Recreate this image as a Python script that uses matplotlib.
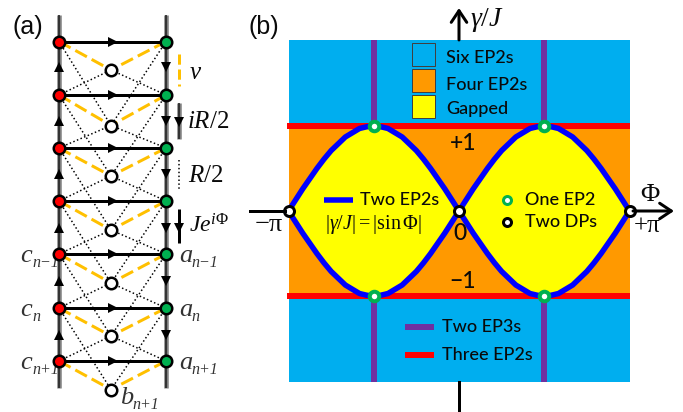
"""Lattice sketch (a) and gamma/Phi phase diagram (b)."""
import numpy as np
import matplotlib
matplotlib.use("Agg")
import matplotlib.pyplot as plt
from matplotlib.patches import Rectangle

W, H = 683, 412
PX = 0.72  # points per pixel at dpi 100

plt.rcParams["font.family"] = "Lato"
plt.rcParams["font.weight"] = "medium"
plt.rcParams["mathtext.fontset"] = "custom"
plt.rcParams["mathtext.rm"] = "Liberation Serif"
plt.rcParams["mathtext.it"] = "Liberation Serif:italic"

SKY = "#00AEEF"
ORANGE = "#FF9900"
YELLOW = "#FFFF00"
RED = "#FF0000"
BLUE = "#0000FF"
PURPLE = "#7030A0"
GREEN = "#00B050"
DASH = "#FFC000"
RAIL = "#7F7F7F"
INK = "#0A0A0A"

# panel (a), read in picture pixels
left_x = 59
right_x = 166
mid_x = 111
row_y = [41.5, 95, 148, 201, 254, 308, 361]
mid_y = [70, 125.5, 176, 230, 283, 336, 389.5]
arrow_y = [67, 121, 174, 228, 281, 335]
left_subs = {4: "n\u22121", 5: "n", 6: "n+1"}
right_subs = {4: "n\u22121", 5: "n", 6: "n+1"}

# panel (b), one arch of the boundary
arch_phi = [i / 24 for i in range(25)]
arch_gamma = [0.00, 0.13, 0.26, 0.38, 0.50, 0.61, 0.71, 0.79, 0.87, 0.92, 0.97, 0.99, 1.00,
              0.99, 0.97, 0.92, 0.87, 0.79, 0.71, 0.61, 0.50, 0.38, 0.26, 0.13, 0.00]
ep3_phi = [-0.5, 0.5]
ep2_gamma = [-1, 1]
dp_phi = [-1, 0, 1]
legend_boxes = [("Six EP2s", SKY, 43, 58), ("Four EP2s", ORANGE, 69, 85), ("Gapped", YELLOW, 95, 109)]

fig = plt.figure(figsize=(W / 100, H / 100), dpi=100)
fig.patch.set_facecolor("white")

# ---- panel (b) regions ----
ax = fig.add_axes([288.5 / W, 1 - 382 / H, 341 / W, 342 / H])
ax.set_xlim(-1, 1)
ax.set_ylim(-2.01, 2.01)
ax.axis("off")
ax.add_patch(Rectangle((-1, -2.01), 2, 4.02, color=SKY, lw=0, zorder=1))
ax.add_patch(Rectangle((-1, -1), 2, 2, color=ORANGE, lw=0, zorder=2))

phi = np.array(arch_phi)
g = np.array(arch_gamma)
xs = np.concatenate([phi - 1, phi[1:]])
ys = np.concatenate([g, g[1:]])
ax.fill_between(xs, -ys, ys, color=YELLOW, lw=0, zorder=3)
for p in ep3_phi:
    ax.plot([p, p], [1, 2.01], color=PURPLE, lw=6 * PX, solid_capstyle="butt", zorder=4)
    ax.plot([p, p], [-2.01, -1], color=PURPLE, lw=6 * PX, solid_capstyle="butt", zorder=4)
for v in ep2_gamma:
    ax.plot([-1.01, 1.005], [v, v], color=RED, lw=6 * PX, solid_capstyle="butt", zorder=4, clip_on=False)
ax.plot(xs, ys, color=BLUE, lw=5.5 * PX, zorder=5)
ax.plot(xs, -ys, color=BLUE, lw=5.5 * PX, zorder=5)
for p in ep3_phi:
    ax.plot([p, p], ep2_gamma, ls="none", marker="o", ms=9.5 * PX, mfc="white", mec=GREEN,
            mew=4 * PX, zorder=6)
ax.plot(dp_phi, [0, 0, 0], ls="none", marker="o", ms=10 * PX, mfc="white", mec="black",
        mew=3 * PX, zorder=7, clip_on=False)

# ---- overlay in picture pixels ----
ov = fig.add_axes([0, 0, 1, 1], facecolor="none")
ov.set_xlim(0, W)
ov.set_ylim(H, 0)
ov.axis("off")


def txt(x, y, s, size, ha="left", **kw):
    ov.text(x, y, s, fontsize=size, ha=ha, va="center", color=kw.pop("color", INK), **kw)


def arrow(x0, y0, x1, y1):
    ov.annotate("", xy=(x1, y1), xytext=(x0, y0),
                arrowprops=dict(arrowstyle="->,head_length=0.6,head_width=0.4", lw=3 * PX, color="black",
                                shrinkA=0, shrinkB=0, mutation_scale=14))


def site_label(x, y, letter, sub, sub_dy=9):
    # letter and subscript set apart, the subscript is much smaller here
    txt(x, y, letter, 19, family="Liberation Serif", style="italic", weight="normal", color="#333333")
    txt(x + 12.5, y + sub_dy - 2, sub, 11.5, family="Liberation Serif", style="italic", weight="normal",
        color="#333333")


# axes arrows of (b)
arrow(459, 40, 459, 8)
ov.plot([459, 459], [382, 411], color="black", lw=3 * PX)
ov.plot([250, 285], [211, 211], color="black", lw=3 * PX)
arrow(633, 211, 674, 211)

txt(12, 27, "(a)", 18, family="Liberation Sans", weight="normal")
txt(249, 27, "(b)", 18, family="Liberation Sans", weight="normal")

txt(470, 20, r"$\gamma/J$", 20)
txt(650, 193, r"$\Phi$", 19, ha="center")
txt(269, 225, "\u2212\u03c0", 19, ha="center", family="Liberation Serif", weight="normal")
txt(647, 226, "+\u03c0", 18, ha="center", family="Liberation Serif", weight="normal")
txt(463, 143, "+1", 16.5, ha="center")
txt(463, 282, "\u22121", 16.5, ha="center")
txt(460, 233, "0", 16.5, ha="center")

# legend of (b)
for name, col, top, ty in legend_boxes:
    ov.add_patch(Rectangle((412, top), 23, 23, fc=col, ec="#404040", lw=1 * PX))
    txt(446, ty, name, 13)
ov.plot([324, 353], [200, 200], color=BLUE, lw=5.5 * PX, solid_capstyle="butt")
txt(360, 200, "Two EP2s", 13)
txt(325, 224, r"$|\gamma/J|=|\mathrm{sin}\,\Phi|$", 14.5)
ov.plot([507], [200], marker="o", ms=8 * PX, mfc="white", mec=GREEN, mew=3 * PX)
txt(525, 200, "One EP2", 13)
ov.plot([507], [222], marker="o", ms=8 * PX, mfc="white", mec="black", mew=3 * PX)
txt(525, 222, "Two DPs", 13)
ov.plot([405, 434], [327, 327], color=PURPLE, lw=6 * PX, solid_capstyle="butt")
txt(442, 327, "Two EP3s", 13)
ov.plot([405, 434], [355, 355], color=RED, lw=6 * PX, solid_capstyle="butt")
txt(442, 355, "Three EP2s", 13)

# ---- panel (a) ----
for x in (left_x, right_x):
    ov.plot([x, x], [15, 388], color=RAIL, lw=4.5 * PX, solid_capstyle="butt", zorder=1)
    ov.plot([x, x], [15, 388], color="#222222", lw=1.6 * PX, solid_capstyle="butt", zorder=1)

for k, my in enumerate(mid_y):
    for x in (left_x, right_x):
        ov.plot([x, mid_x], [row_y[k], my], color=DASH, lw=3 * PX, ls=(0, (4.4, 1.8)), zorder=2)
        if k + 1 < len(row_y):
            ov.plot([x, mid_x], [row_y[k + 1], my], color="black", lw=1.5 * PX, ls=(0, (1, 1.6)), zorder=2)
        if k > 0:
            ov.plot([x, mid_x], [row_y[k - 1], my], color="black", lw=1.5 * PX, ls=(0, (1, 1.6)), zorder=2)

for y in row_y:
    ov.plot([left_x, right_x], [y, y], color="black", lw=3 * PX, zorder=3)
    ov.plot([113], [y], marker=">", ms=10 * PX, color="black", mew=0, zorder=3)
for y in arrow_y:
    ov.plot([left_x], [y], marker="^", ms=10 * PX, color="black", mew=0, zorder=3)
    ov.plot([right_x], [y], marker="v", ms=10 * PX, color="black", mew=0, zorder=3)

n = len(row_y)
ov.plot([left_x] * n, row_y, ls="none", marker="o", ms=11.5 * PX, mfc=RED, mec="black", mew=2.5 * PX, zorder=4)
ov.plot([right_x] * n, row_y, ls="none", marker="o", ms=11.5 * PX, mfc=GREEN, mec="black", mew=2.5 * PX, zorder=4)
ov.plot([mid_x] * n, mid_y, ls="none", marker="o", ms=11.5 * PX, mfc="white", mec="black", mew=2.5 * PX, zorder=4)

for k, s in left_subs.items():
    site_label(20, row_y[k] + 2, "c", s)
for k, s in right_subs.items():
    site_label(179, row_y[k] + 2, "a", s)
site_label(120, 398, "b", "n+1", sub_dy=9)

# bond key
ov.plot([179, 179], [54, 86], color=DASH, lw=3 * PX, ls=(0, (3.4, 1.6)))
txt(189, 71, "$v$", 18)
ov.plot([179, 179], [103, 139], color=RAIL, lw=4.5 * PX, solid_capstyle="butt")
ov.plot([179, 179], [103, 139], color="#222222", lw=1.6 * PX, solid_capstyle="butt")
ov.plot([179], [122], marker="v", ms=10 * PX, color="black", mew=0)
txt(187, 120, "$iR/2$", 18)
ov.plot([179, 179], [160, 190], color="black", lw=1.5 * PX, ls=(0, (1, 1.6)))
txt(188, 174, "$R/2$", 18)
ov.plot([179, 179], [209, 243], color="black", lw=3 * PX, solid_capstyle="butt")
ov.plot([179], [228], marker="v", ms=10 * PX, color="black", mew=0)
txt(189, 225, r"$Je^{i\Phi}$", 17)

fig.savefig("out.png", dpi=100, facecolor="white")
